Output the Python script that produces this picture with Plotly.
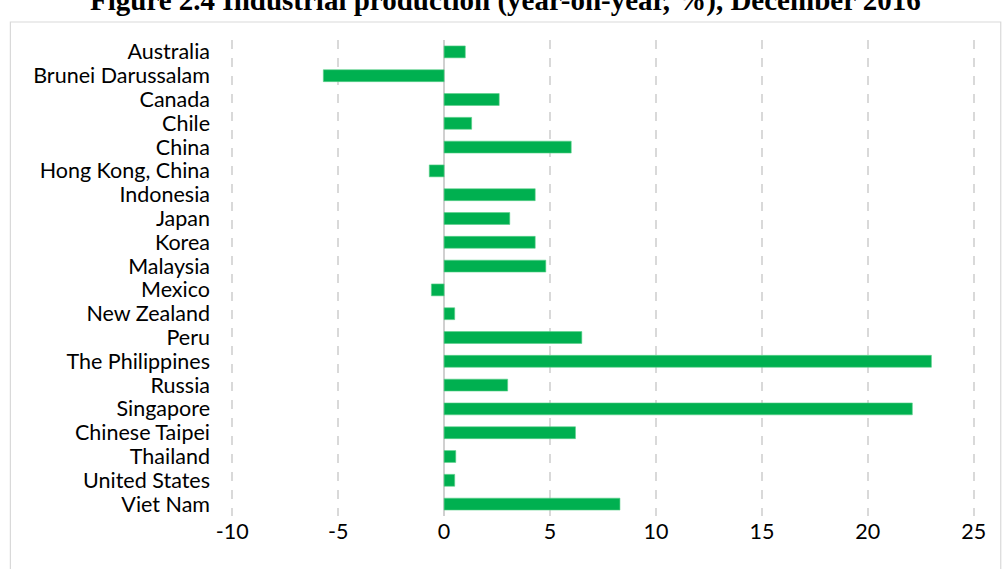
import plotly.graph_objects as go

# Industrial production, year-on-year % change, December 2016
economies = [
    "Australia", "Brunei Darussalam", "Canada", "Chile", "China",
    "Hong Kong, China", "Indonesia", "Japan", "Korea", "Malaysia",
    "Mexico", "New Zealand", "Peru", "The Philippines", "Russia",
    "Singapore", "Chinese Taipei", "Thailand", "United States", "Viet Nam",
]
yoy_change = [
    1.0, -5.7, 2.6, 1.3, 6.0,
    -0.7, 4.3, 3.1, 4.3, 4.8,
    -0.6, 0.5, 6.5, 23.0, 3.0,
    22.1, 6.2, 0.55, 0.5, 8.3,
]
x_ticks = [-10, -5, 0, 5, 10, 15, 20, 25]

title_text = "Figure 2.4 Industrial production (year-on-year, %), December 2016"

fig = go.Figure(
    go.Bar(
        x=yoy_change,
        y=economies,
        orientation="h",
        marker=dict(color="#00B050", line=dict(color="#5cd08a", width=0.6)),
        hoverinfo="x+y",
    )
)

W, H = 1002, 569
# x range padded slightly so the gridlines at -10 and 25 are drawn
x_lo, x_hi = -10.2, 25.2
unit = (974 - 232) / 35.0
L = 232 + (x_lo + 10) * unit
R = W - (974 + (x_hi - 25) * unit)
T, B = 40, 53
pw, ph = W - L - R, H - T - B


def px(xp):
    return (xp - L) / pw


def py(yp):
    return (H - B - yp) / ph


fig.update_layout(
    width=W,
    height=H,
    margin=dict(l=L, r=R, t=T, b=B),
    paper_bgcolor="white",
    plot_bgcolor="white",
    showlegend=False,
    bargap=0.5,
    font=dict(family="Lato, Open Sans, sans-serif", size=21.5, color="#000000"),
    xaxis=dict(
        range=[x_lo, x_hi],
        tickvals=x_ticks,
        ticktext=[str(v) for v in x_ticks],
        showgrid=True,
        gridcolor="#d9d9d9",
        griddash="dash",
        gridwidth=1.5,
        zeroline=True,
        zerolinecolor="#d0d0d0",
        zerolinewidth=2,
        showline=False,
        ticks="",
        ticklabelstandoff=0,
        fixedrange=True,
    ),
    yaxis=dict(
        autorange="reversed",
        tickmode="array",
        tickvals=economies,
        ticktext=economies,
        showgrid=False,
        zeroline=False,
        showline=False,
        ticks="",
        ticklabelstandoff=17,
        fixedrange=True,
    ),
    shapes=[
        dict(
            type="rect",
            xref="paper",
            yref="paper",
            x0=px(10),
            x1=px(1001),
            y0=py(590),
            y1=py(22),
            line=dict(color="#d9d9d9", width=1.2),
            fillcolor="rgba(0,0,0,0)",
            layer="below",
        )
    ],
    annotations=[
        dict(
            text="<b>" + title_text + "</b>",
            xref="paper",
            yref="paper",
            x=px(505),
            y=py(0),
            xanchor="center",
            yanchor="middle",
            showarrow=False,
            font=dict(family="Liberation Serif, Times New Roman, serif", size=29, color="#000000"),
        )
    ],
)

fig.write_html("out.html")
